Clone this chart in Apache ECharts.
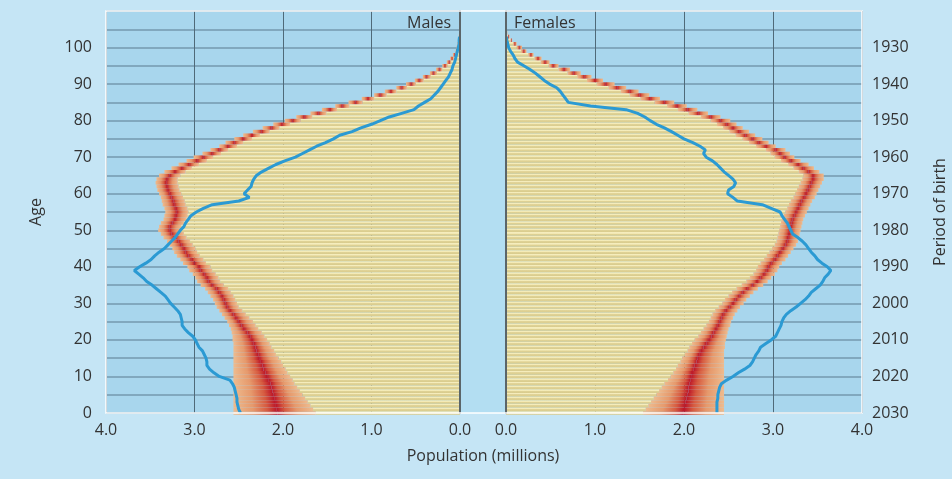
<!DOCTYPE html>
<html>
<head>
<meta charset="utf-8">
<script src="https://cdn.jsdelivr.net/npm/echarts@6/dist/echarts.min.js"></script>
<style>
html, body { margin: 0; padding: 0; background: #c5e5f5; }
#chart { width: 952px; height: 479px; }
</style>
</head>
<body>
<div id="chart"></div>
<script>
// ages 0..110 on the vertical axis
var ages = [];
for (var a = 0; a <= 110; a++) ages.push(String(a));
var baseYear = 2030;

// males, millions per single year of age (2030 projection band + current population)
var mLow = [1.63,1.66,1.69,1.72,1.75,1.78,1.81,1.84,1.87,1.89,
    1.92,1.95,1.97,2.00,2.02,2.05,2.08,2.10,2.13,2.15,
    2.18,2.21,2.24,2.28,2.31,2.34,2.38,2.42,2.46,2.50,
    2.52,2.54,2.56,2.59,2.62,2.67,2.71,2.73,2.76,2.80,
    2.82,2.87,2.90,2.94,2.97,2.99,3.02,3.05,3.09,3.12,
    3.15,3.15,3.12,3.09,3.08,3.07,3.08,3.10,3.11,3.13,
    3.15,3.17,3.18,3.19,3.19,3.16,3.10,3.03,2.95,2.86,
    2.79,2.70,2.62,2.52,2.45,2.35,2.26,2.15,2.04,1.92,
    1.80,1.67,1.51,1.39,1.25,1.10,0.97,0.83,0.72,0.60,
    0.50,0.41,0.33,0.26,0.20,0.14,0.10,0.07,0.05,0.03,
    0.02,0.01,0.01,0.005];
var mMid = [2.06,2.07,2.08,2.09,2.10,2.11,2.12,2.13,2.14,2.16,
    2.18,2.20,2.22,2.23,2.25,2.27,2.28,2.30,2.31,2.33,
    2.35,2.37,2.40,2.44,2.47,2.50,2.53,2.56,2.60,2.63,
    2.65,2.67,2.69,2.72,2.75,2.80,2.84,2.86,2.89,2.93,
    2.95,3.00,3.03,3.07,3.10,3.12,3.15,3.18,3.22,3.26,
    3.28,3.28,3.25,3.22,3.21,3.20,3.21,3.23,3.24,3.26,
    3.28,3.30,3.31,3.32,3.31,3.28,3.22,3.14,3.06,2.97,
    2.90,2.80,2.72,2.62,2.55,2.45,2.35,2.24,2.13,2.01,
    1.89,1.76,1.60,1.47,1.33,1.18,1.04,0.90,0.78,0.66,
    0.55,0.46,0.38,0.30,0.23,0.17,0.12,0.09,0.06,0.04,
    0.03,0.02,0.015,0.01];
var mHigh = [2.56,2.56,2.56,2.56,2.56,2.56,2.56,2.56,2.56,2.56,
    2.56,2.56,2.56,2.56,2.56,2.56,2.56,2.56,2.56,2.56,
    2.57,2.57,2.58,2.59,2.61,2.63,2.66,2.69,2.72,2.75,
    2.77,2.79,2.82,2.85,2.88,2.93,2.97,2.99,3.02,3.06,
    3.08,3.13,3.16,3.20,3.23,3.25,3.28,3.31,3.35,3.38,
    3.41,3.40,3.38,3.35,3.34,3.33,3.34,3.36,3.37,3.38,
    3.40,3.42,3.43,3.44,3.43,3.40,3.34,3.26,3.18,3.09,
    3.01,2.91,2.82,2.72,2.65,2.55,2.45,2.34,2.23,2.11,
    1.98,1.85,1.69,1.56,1.41,1.26,1.11,0.97,0.85,0.72,
    0.61,0.51,0.42,0.34,0.27,0.20,0.15,0.11,0.08,0.05,
    0.04,0.03,0.02,0.015];
var mNow = [2.48,2.50,2.51,2.52,2.52,2.53,2.54,2.55,2.57,2.60,
    2.72,2.78,2.83,2.86,2.86,2.87,2.89,2.91,2.95,2.97,
    2.99,3.02,3.07,3.11,3.14,3.14,3.15,3.16,3.19,3.23,
    3.27,3.30,3.33,3.38,3.43,3.48,3.54,3.58,3.63,3.68,
    3.62,3.55,3.49,3.45,3.40,3.34,3.30,3.26,3.22,3.19,
    3.16,3.12,3.10,3.07,3.04,2.98,2.90,2.80,2.50,2.38,
    2.44,2.40,2.36,2.35,2.33,2.30,2.24,2.16,2.08,1.98,
    1.86,1.78,1.70,1.62,1.52,1.43,1.36,1.22,1.12,1.00,
    0.90,0.80,0.66,0.52,0.47,0.40,0.33,0.29,0.25,0.22,
    0.19,0.16,0.13,0.11,0.09,0.08,0.06,0.05,0.04,0.03,
    0.02,0.01,0.01,0.005];

// females
var fLow = [1.54,1.57,1.60,1.63,1.66,1.69,1.72,1.75,1.78,1.82,
    1.85,1.88,1.91,1.93,1.96,1.98,2.01,2.04,2.06,2.09,
    2.12,2.16,2.19,2.22,2.25,2.28,2.30,2.32,2.35,2.39,
    2.43,2.46,2.50,2.54,2.59,2.65,2.70,2.74,2.78,2.81,
    2.83,2.86,2.90,2.93,2.96,2.99,3.02,3.04,3.05,3.06,
    3.07,3.08,3.09,3.10,3.12,3.14,3.16,3.18,3.20,3.23,
    3.25,3.27,3.29,3.31,3.33,3.34,3.29,3.23,3.17,3.09,
    3.02,2.97,2.92,2.81,2.73,2.66,2.58,2.51,2.44,2.37,
    2.30,2.19,2.05,1.93,1.81,1.67,1.51,1.39,1.29,1.15,
    1.02,0.91,0.80,0.69,0.59,0.48,0.39,0.32,0.25,0.17,
    0.12,0.08,0.05,0.02,0.005];
var fMid = [1.99,2.00,2.01,2.02,2.03,2.04,2.05,2.05,2.06,2.07,
    2.08,2.09,2.11,2.12,2.14,2.15,2.17,2.19,2.22,2.25,
    2.28,2.31,2.33,2.36,2.38,2.40,2.42,2.44,2.47,2.51,
    2.55,2.58,2.62,2.66,2.71,2.77,2.82,2.86,2.90,2.93,
    2.95,2.98,3.02,3.05,3.08,3.11,3.14,3.16,3.17,3.18,
    3.19,3.20,3.21,3.22,3.24,3.26,3.28,3.30,3.32,3.35,
    3.37,3.39,3.41,3.43,3.45,3.45,3.40,3.34,3.28,3.20,
    3.13,3.08,3.03,2.92,2.84,2.77,2.69,2.62,2.55,2.48,
    2.41,2.30,2.16,2.04,1.92,1.78,1.62,1.50,1.39,1.25,
    1.12,1.00,0.88,0.76,0.65,0.53,0.44,0.36,0.28,0.20,
    0.15,0.10,0.06,0.03,0.01];
var fHigh = [2.45,2.45,2.45,2.45,2.45,2.45,2.45,2.45,2.45,2.45,
    2.45,2.45,2.45,2.45,2.45,2.45,2.45,2.45,2.46,2.46,
    2.47,2.48,2.49,2.50,2.52,2.53,2.55,2.57,2.60,2.63,
    2.67,2.70,2.74,2.78,2.83,2.89,2.94,2.98,3.02,3.05,
    3.07,3.10,3.14,3.17,3.20,3.23,3.26,3.28,3.29,3.30,
    3.31,3.32,3.33,3.34,3.36,3.38,3.40,3.42,3.44,3.47,
    3.49,3.51,3.53,3.55,3.57,3.57,3.52,3.46,3.40,3.31,
    3.24,3.19,3.14,3.03,2.95,2.88,2.80,2.73,2.66,2.59,
    2.52,2.41,2.27,2.15,2.03,1.89,1.73,1.61,1.49,1.35,
    1.22,1.09,0.96,0.84,0.72,0.59,0.49,0.40,0.31,0.23,
    0.18,0.12,0.07,0.04,0.015];
var fNow = [2.37,2.37,2.37,2.37,2.38,2.38,2.39,2.40,2.42,2.48,
    2.55,2.61,2.68,2.74,2.77,2.79,2.81,2.84,2.86,2.92,
    2.98,3.03,3.05,3.07,3.09,3.10,3.12,3.15,3.20,3.26,
    3.31,3.36,3.40,3.43,3.48,3.53,3.56,3.58,3.62,3.65,
    3.61,3.55,3.50,3.47,3.43,3.40,3.37,3.33,3.28,3.22,
    3.20,3.18,3.16,3.13,3.10,3.08,2.98,2.88,2.60,2.55,
    2.49,2.50,2.56,2.58,2.55,2.50,2.45,2.41,2.37,2.32,
    2.25,2.22,2.24,2.18,2.10,2.00,1.93,1.86,1.78,1.69,
    1.62,1.56,1.48,1.35,0.95,0.70,0.67,0.64,0.61,0.57,
    0.49,0.43,0.38,0.33,0.27,0.20,0.13,0.10,0.08,0.05,
    0.03,0.02,0.01,0.005];

var font = '"Open Sans", sans-serif';
var txt = '#333333';
var panelBg = '#a8d6ed';

// alternating light stripe on each single-year bar
var stripe = {
    type: 'linear', x: 0, y: 0, x2: 0, y2: 1,
    colorStops: [
        { offset: 0, color: '#f6eec0' },
        { offset: 0.38, color: '#f3eab6' },
        { offset: 0.42, color: '#e1d498' },
        { offset: 1, color: '#d8cb8c' }
    ]
};

function fan(darkAtEnd) {
    var stops = [
        { offset: 0, color: '#eebb8e' },
        { offset: 0.45, color: '#e6996c' },
        { offset: 0.78, color: '#d65a40' },
        { offset: 1, color: '#bc1628' }
    ];
    if (!darkAtEnd) {
        stops = stops.map(function (s) { return { offset: 1 - s.offset, color: s.color }; }).reverse();
    }
    return { type: 'linear', x: 0, y: 0, x2: 1, y2: 0, colorStops: stops };
}

function diff(a, b) {
    return a.map(function (v, i) { return +(v - b[i]).toFixed(4); });
}

function side(g, yi, low, mid, high, now, leftSide) {
    var common = {
        type: 'bar', xAxisIndex: g, yAxisIndex: yi, stack: 'pop' + g,
        barCategoryGap: '0%', silent: true
    };
    return [
        Object.assign({}, common, { name: 'base' + g, data: low, itemStyle: { color: stripe } }),
        Object.assign({}, common, { name: 'lo' + g, data: diff(mid, low), itemStyle: { color: fan(!leftSide) } }),
        Object.assign({}, common, { name: 'hi' + g, data: diff(high, mid), itemStyle: { color: fan(leftSide) } }),
        {
            type: 'line', xAxisIndex: g, yAxisIndex: yi, data: now, symbol: 'none',
            silent: true, z: 4, lineStyle: { color: '#2b9ad3', width: 3 }
        }
    ];
}

function valueAxis(g, inverse) {
    return {
        gridIndex: g, type: 'value', min: 0, max: 4, interval: 1, inverse: inverse,
        axisLine: { show: false }, axisTick: { show: false },
        axisLabel: {
            color: txt, fontSize: 16, fontFamily: font, margin: 9,
            formatter: function (v) { return v.toFixed(1); }
        },
        splitLine: { show: true, lineStyle: { color: '#4f6a79', width: 1 } }
    };
}

function ageAxis(g, pos, labels) {
    return {
        gridIndex: g, type: 'category', data: ages, boundaryGap: false, position: pos,
        axisLine: { show: false }, axisTick: { show: false },
        axisLabel: {
            show: labels, color: txt, fontSize: 16, fontFamily: font,
            margin: pos === 'left' ? 14 : 10,
            interval: function (i) { return i % 10 === 0 && i <= 100; },
            formatter: function (v) { return pos === 'left' ? v : String(baseYear - Number(v)); }
        },
        splitLine: {
            show: labels,
            interval: function (i) { return i % 5 === 0; },
            lineStyle: { color: '#7499ae', width: 1.5 }
        }
    };
}

function zeroAxis(g, pos) {
    return {
        gridIndex: g, type: 'category', data: ages, boundaryGap: false, position: pos, z: 5,
        axisLine: { show: true, lineStyle: { color: '#5b6569', width: 2 } },
        axisTick: { show: false }, axisLabel: { show: false }, splitLine: { show: false }
    };
}

var chart = echarts.init(document.getElementById('chart'));

var leftAge = ageAxis(0, 'left', true);
leftAge.name = 'Age';
leftAge.nameLocation = 'middle';
leftAge.nameGap = 62;
leftAge.nameRotate = 90;
leftAge.nameTextStyle = { color: txt, fontSize: 16, fontFamily: font };

var rightAge = ageAxis(1, 'right', true);
rightAge.name = 'Period of birth';
rightAge.nameLocation = 'middle';
rightAge.nameGap = 70;
rightAge.nameRotate = 90;
rightAge.nameTextStyle = { color: txt, fontSize: 16, fontFamily: font };

var option = {
    animation: false,
    backgroundColor: '#c5e5f5',
    grid: [
        { left: 106, right: 492, top: 11, bottom: 66, show: true, backgroundColor: panelBg, borderWidth: 0 },
        { left: 506, right: 90, top: 11, bottom: 66, show: true, backgroundColor: panelBg, borderWidth: 0 }
    ],
    xAxis: [valueAxis(0, true), valueAxis(1, false)],
    yAxis: [leftAge, zeroAxis(0, 'right'), rightAge, zeroAxis(1, 'left')],
    series: [].concat(
        side(0, 0, mLow, mMid, mHigh, mNow, true),
        side(1, 2, fLow, fMid, fHigh, fNow, false)
    ),
    graphic: [
        { type: 'rect', silent: true, shape: { x: 460, y: 11, width: 46, height: 402 }, style: { fill: '#b3def2' } },
        { type: 'rect', silent: true, z: 100, shape: { x: 106, y: 11, width: 756, height: 402 },
          style: { fill: 'none', stroke: '#ffffff', lineWidth: 1.5 } },
        { type: 'text', silent: true, z: 100, x: 451, y: 23,
          style: { text: 'Males', fill: txt, font: '16px ' + font, textAlign: 'right', textVerticalAlign: 'middle' } },
        { type: 'text', silent: true, z: 100, x: 514, y: 23,
          style: { text: 'Females', fill: txt, font: '16px ' + font, textAlign: 'left', textVerticalAlign: 'middle' } },
        { type: 'text', silent: true, x: 483, y: 456,
          style: { text: 'Population (millions)', fill: txt, font: '16px ' + font, textAlign: 'center', textVerticalAlign: 'middle' } }
    ]
};

chart.setOption(option);
</script>
</body>
</html>
